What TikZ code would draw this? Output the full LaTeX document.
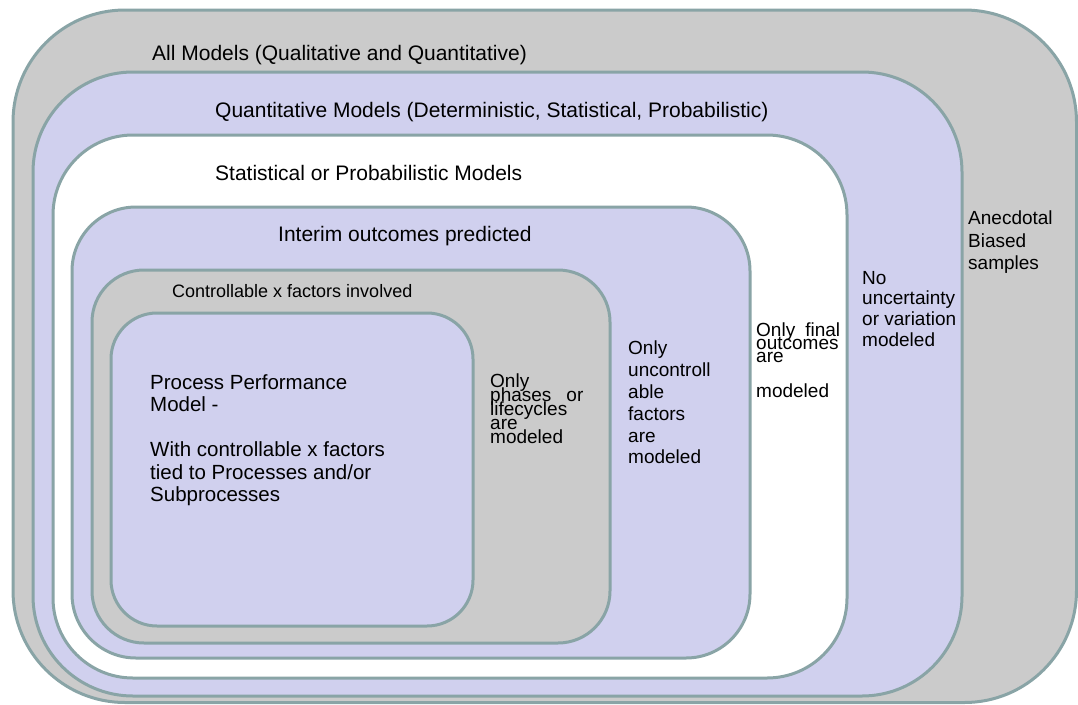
\documentclass[tikz,border=0pt]{standalone}
\usepackage{fontspec}
\setmainfont{Liberation Sans}
\definecolor{rim}{HTML}{89A4A6}
\definecolor{greyzone}{HTML}{CBCBCB}
\definecolor{lavzone}{HTML}{D0D0EE}
\begin{document}
\lineskiplimit=-100pt
\begin{tikzpicture}[x=1pt,y=-1pt,
  zone/.style={draw=rim,line width=3pt},
  head/.style={anchor=base west,inner sep=0pt,font=\fontsize{21}{25}\selectfont},
  col/.style={anchor=north west,inner sep=0pt,align=left,
    execute at begin node={\rule{0pt}{16pt}}},
]
\useasboundingbox (0,0) rectangle (1078,704);
\fill[white] (0,0) rectangle (1078,704);

% nested zones, outermost first
\draw[zone,fill=greyzone,rounded corners=112pt] (13,10) rectangle (1076.5,702.5);
\draw[zone,fill=lavzone,rounded corners=100pt] (33,72) rectangle (962,696);
\draw[zone,fill=white,rounded corners=80pt] (53,135) rectangle (847,678);
\draw[zone,fill=lavzone,rounded corners=64pt] (72,207) rectangle (750,658);
\draw[zone,fill=greyzone,rounded corners=52pt] (92,270) rectangle (610,643);
\draw[zone,fill=lavzone,rounded corners=46pt] (111,313) rectangle (473,626);

% zone titles
\node[head] (all) at (152,60) {All Models (Qualitative and Quantitative)};
\node[head] (quant) at (215,117) {Quantitative Models (Deterministic, Statistical, Probabilistic)};
\node[head] (stat) at (215,180) {Statistical or Probabilistic Models};
\node[head] (interim) at (278,241) {Interim outcomes predicted};
\node[head,font=\fontsize{18}{22}\selectfont] (ctrl) at (172,297) {Controllable x factors involved};

% innermost description
\node[col,font=\fontsize{20.5}{22.5}\selectfont] (ppm) at (150,374)
  {Process Performance\\Model -\\[22.5pt]With controllable x factors\\tied to Processes and/or\\Subprocesses};

% side notes between the zone borders
\node[col,font=\fontsize{19}{13.8}\selectfont] (phases) at (490,374)
  {Only\\phases\hspace{15pt}or\\lifecycles\\are\\modeled};
\node[col,font=\fontsize{19}{21.8}\selectfont] (uncont) at (628,341)
  {Only\\uncontroll\\able\\factors\\are\\modeled};
\node[col,font=\fontsize{19}{13}\selectfont] (final) at (756,323)
  {Only\hspace{10pt}final\\outcomes\\are\\[22pt]modeled};
\node[col,font=\fontsize{19}{20.7}\selectfont] (nounc) at (862,271)
  {No\\uncertainty\\or variation\\modeled};
\node[col,font=\fontsize{19}{22.5}\selectfont] (anec) at (968,211)
  {Anecdotal\\Biased\\samples};
\end{tikzpicture}
\end{document}
